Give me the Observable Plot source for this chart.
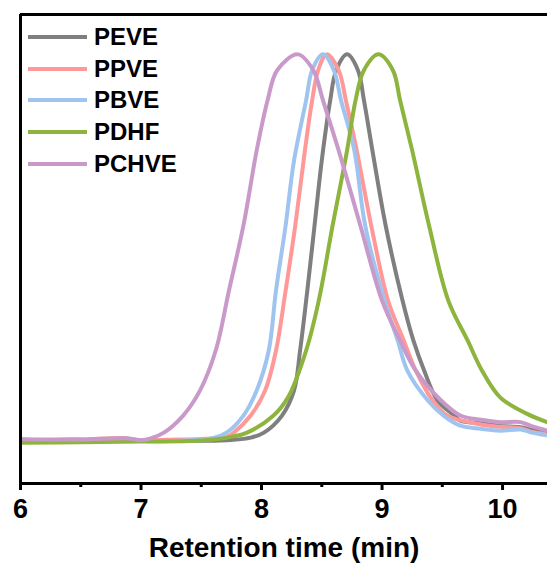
<!DOCTYPE html>
<html>
<head>
<meta charset="utf-8">
<script src="https://cdn.jsdelivr.net/npm/d3@7"></script>
<script src="https://cdn.jsdelivr.net/npm/@observablehq/plot@0.6"></script>
<style>
  html, body { margin: 0; padding: 0; background: #fff; }
  #wrap { position: relative; width: 547px; height: 565px; font-family: "Liberation Sans", Arial, sans-serif; }
  #wrap svg g[aria-label="x-axis tick label"] { font-size: 27px !important; font-weight: bold; }
  #wrap svg g[aria-label="x-axis label"] { font-size: 28px !important; font-weight: bold; }
  #legend { position: absolute; left: 28px; top: 21px; }
  .row { display: flex; align-items: center; height: 31.8px; }
  .row svg { display: block; }
  .row span { font-size: 24px; font-weight: bold; margin-left: 7px; color: #000; line-height: 1; }
</style>
</head>
<body>
<div id="wrap"><div id="legend"></div></div>
<script>
// Series names and colours
const seriesNames = ["PEVE", "PPVE", "PBVE", "PDHF", "PCHVE"];
const seriesColors = ["#7f7f7f", "#ff9898", "#9fc4ef", "#8db43d", "#c99ac9"];

// [retention time (min), normalized intensity]
const PEVE = [[6.0,0.2],[6.5,0.1],[7.0,0.3],[7.5,0.2],[7.75,0.4],[7.91,1.0],[8.02,2.3],[8.17,6.7],[8.27,13.2],[8.32,23.5],[8.38,39.0],[8.44,55.8],[8.50,72.6],[8.57,88.1],[8.62,95.9],[8.71,100],[8.80,95.9],[8.85,88.1],[8.92,75.2],[9.03,55.8],[9.17,36.4],[9.26,26.1],[9.35,18.3],[9.46,10.6],[9.60,6.7],[9.65,5.4],[9.82,4.7],[9.98,4.0],[10.15,3.7],[10.23,3.1],[10.37,2.1]];
const PPVE = [[6.0,0.3],[6.5,0.5],[6.85,0.9],[6.95,0.4],[7.3,0.5],[7.6,0.8],[7.7,1.0],[7.77,2.3],[7.91,6.7],[8.03,13.2],[8.12,23.5],[8.20,39.0],[8.28,55.8],[8.36,75.2],[8.42,88.1],[8.47,95.9],[8.54,100],[8.64,95.9],[8.70,88.1],[8.79,75.2],[8.91,55.8],[9.05,36.4],[9.18,26.1],[9.28,18.3],[9.42,10.6],[9.54,6.7],[9.82,4.4],[9.98,3.8],[10.15,3.4],[10.23,2.6],[10.37,1.8]];
const PBVE = [[6.0,0.6],[6.2,0.3],[6.45,0.6],[6.6,0.2],[6.9,0.7],[7.0,0.2],[7.4,0.3],[7.6,0.9],[7.71,2.3],[7.85,6.7],[7.96,13.2],[8.06,23.5],[8.12,39.0],[8.20,55.8],[8.27,72.6],[8.37,88.1],[8.42,95.9],[8.51,100],[8.60,95.9],[8.66,88.1],[8.77,75.2],[8.86,55.8],[9.02,36.4],[9.13,26.1],[9.21,18.3],[9.38,10.6],[9.51,6.7],[9.65,4.1],[9.82,3.3],[9.98,2.8],[10.15,3.1],[10.23,2.4],[10.37,1.6]];
const PDHF = [[6.0,-0.3],[6.5,-0.2],[7.0,0.0],[7.4,0.1],[7.6,0.5],[7.75,1.2],[7.88,2.3],[8.10,6.7],[8.22,11.4],[8.37,23.5],[8.475,36.4],[8.59,55.8],[8.71,75.2],[8.78,88.1],[8.85,95.9],[8.97,100],[9.09,95.9],[9.15,88.1],[9.25,75.2],[9.39,55.8],[9.55,36.4],[9.71,26.1],[9.83,18.3],[9.98,11.4],[10.20,7.2],[10.37,5.0]];
const PCHVE = [[6.0,0.6],[6.5,0.5],[6.9,0.8],[7.0,0.3],[7.08,0.8],[7.19,2.3],[7.35,6.7],[7.49,13.2],[7.62,23.5],[7.73,39.0],[7.85,55.8],[7.96,75.2],[8.05,88.1],[8.13,95.9],[8.30,100],[8.43,95.9],[8.51,88.1],[8.64,75.2],[8.82,55.8],[9.00,36.4],[9.15,26.1],[9.28,18.3],[9.49,10.6],[9.65,6.7],[9.82,5.6],[9.98,5.0],[10.15,5.0],[10.23,4.1],[10.37,2.8]];

// Axis ticks
const majorTicks = [6, 7, 8, 9, 10];
const minorTicks = [6.5, 7.5, 8.5, 9.5];
const xDomain = [6, 10.373];
const yDomain = [-10.85, 110.3];
const xLabel = "Retention time (min)";

const seriesData = [PEVE, PPVE, PBVE, PDHF, PCHVE];
const rows = seriesData.flatMap((arr, i) => arr.map(([t, v]) => ({series: seriesNames[i], t, v})));

const chart = Plot.plot({
  width: 547,
  height: 565,
  marginLeft: 20,
  marginRight: 0,
  marginTop: 14,
  marginBottom: 82,
  style: {fontFamily: "'Liberation Sans', Arial, sans-serif", fontWeight: "bold", color: "#000", background: "transparent"},
  x: {domain: xDomain, axis: null},
  y: {domain: yDomain, axis: null},
  color: {domain: seriesNames, range: seriesColors},
  marks: [
    Plot.line(rows, {x: "t", y: "v", z: "series", stroke: "series", strokeWidth: 4, curve: "catmull-rom", clip: true}),
    Plot.ruleX([xDomain[0]], {stroke: "#000", strokeWidth: 3}),
    Plot.ruleY([yDomain[0]], {stroke: "#000", strokeWidth: 3}),
    Plot.ruleY([yDomain[1]], {stroke: "#000", strokeWidth: 3}),
    Plot.axisX({ticks: majorTicks, tickSize: 7, tickPadding: 8, strokeWidth: 3, fontSize: 27, fontWeight: "bold", tickFormat: d3.format("d"), label: null}),
    Plot.axisX({ticks: minorTicks, tickSize: 4, strokeWidth: 3, tickFormat: () => "", label: null}),
    Plot.axisX({ticks: [], label: xLabel, labelAnchor: "center", labelOffset: 73, fontSize: 28, fontWeight: "bold", labelArrow: "none"})
  ]
});

const wrap = document.getElementById("wrap");
wrap.insertBefore(chart, wrap.firstChild);

const legend = document.getElementById("legend");
seriesNames.forEach((name, i) => {
  const row = document.createElement("div");
  row.className = "row";
  row.innerHTML = `<svg width="59" height="6"><line x1="0" y1="3" x2="59" y2="3" stroke="${seriesColors[i]}" stroke-width="4"/></svg><span>${name}</span>`;
  legend.appendChild(row);
});
</script>
</body>
</html>
